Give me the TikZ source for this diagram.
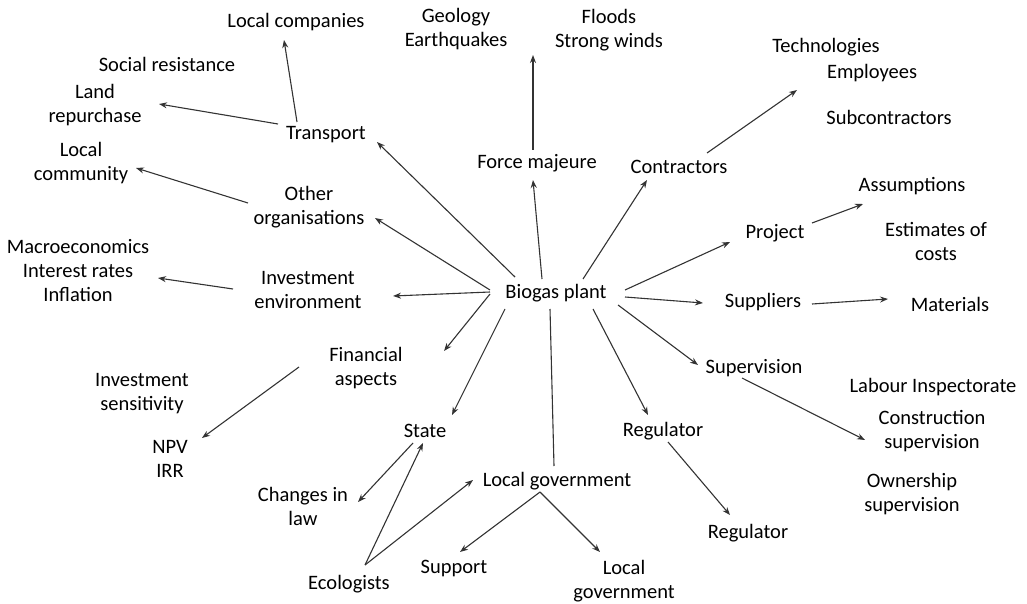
\documentclass[tikz,border=0pt]{standalone}
\usepackage{fontspec}
\setmainfont{Carlito}
\usetikzlibrary{
    arrows.meta,
    positioning,
    calc
}
\tikzset{
    % Colors
    line color/.style={black!80},
    %
    % Nodes
    txt/.style={inner sep=2pt, align=center},
    %
    % Arrows
    arrow tip/.tip={Stealth[length=8pt,width=6pt]},
    link/.style={line color, line width=1.1pt},
    arr/.style={link,->,>={arrow tip}}
}
\tikzstyle{every node}=[font=\fontsize{20.5}{24}\selectfont]

\begin{document}
\begin{tikzpicture}[x=1pt, y=-1pt]
        \useasboundingbox (0,0) rectangle (1027,604);

        % centre
        \node[txt] (bio) at (556,293) {Biogas plant};

        % left half
        \node[txt] (transport) at (326,135) {Transport};
        \node[txt] (loccomp) at (296,22) {Local companies};
        \node[txt] (socres) at (167,64) {Social resistance};
        \node[txt] (landrep) at (95,105) {Land\\repurchase};
        \node[txt] (loccom) at (81,163) {Local\\community};
        \node[txt] (other) at (309,207) {Other\\organisations};
        \node[txt] (invenv) at (308,290) {Investment\\environment};
        \node[txt] (macro) at (78,271) {Macroeconomics\\Interest rates\\Inflation};
        \node[txt] (fin) at (366,368) {Financial\\aspects};
        \node[txt] (invsens) at (142,394) {Investment\\sensitivity};
        \node[txt] (npv) at (170,459) {NPV\\IRR};
        \node[txt] (state) at (425,431) {State};
        \node[txt] (changes) at (303,506) {Changes in\\law};
        \node[txt] (eco) at (349,584) {Ecologists};
        \node[txt] (localgov) at (557,481) {Local government};
        \node[txt] (support) at (454,568) {Support};
        \node[txt] (localgovb) at (624,581) {Local\\government};

        % top
        \node[txt] (geo) at (456,29) {Geology\\Earthquakes};
        \node[txt] (floods) at (609,30) {Floods\\Strong winds};
        \node[txt] (force) at (537,163) {Force majeure};
        \node[txt] (contr) at (679,167) {Contractors};

        % right half
        \node[txt] (tech) at (826,47) {Technologies};
        \node[txt] (empl) at (872,73) {Employees};
        \node[txt] (subc) at (889,117) {Subcontractors};
        \node[txt] (project) at (775,233) {Project};
        \node[txt] (assum) at (912,186) {Assumptions};
        \node[txt] (estim) at (936,241) {Estimates of\\costs};
        \node[txt] (supp) at (763,302) {Suppliers};
        \node[txt] (mater) at (950,304) {Materials};
        \node[txt] (superv) at (754,368) {Supervision};
        \node[txt] (labour) at (933,387) {Labour Inspectorate};
        \node[txt] (constr) at (932,431) {Construction\\supervision};
        \node[txt] (owner) at (912,494) {Ownership\\supervision};
        \node[txt] (reg) at (663,431) {Regulator};
        \node[txt] (regb) at (748,533) {Regulator};

        % connectors from the plant
        \draw[arr] ([shift={(-41,-16)}]bio.center) -- ([shift={(51,7)}]transport.center);
        \draw[arr] ([shift={(-66,-3)}]bio.center) -- ([shift={(66,11)}]other.center);
        \draw[arr] ([shift={(-66,-1)}]bio.center) -- ([shift={(85,6)}]invenv.center);
        \draw[arr] ([shift={(-66,1)}]bio.center) -- ([shift={(78,-17)}]fin.center);
        \draw[arr] ([shift={(-51,16)}]bio.center) -- ([shift={(27,-16)}]state.center);
        \draw[link] ([shift={(-6,16)}]bio.center) -- ([shift={(-3,-15)}]localgov.center);
        \draw[arr] ([shift={(37,16)}]bio.center) -- ([shift={(-15,-16)}]reg.center);
        \draw[arr] ([shift={(62,12)}]bio.center) -- ([shift={(-56,-3)}]superv.center);
        \draw[arr] ([shift={(69,4)}]bio.center) -- ([shift={(-60,1)}]supp.center);
        \draw[arr] ([shift={(69,-3)}]bio.center) -- ([shift={(-45,9)}]project.center);
        \draw[arr] ([shift={(27,-14)}]bio.center) -- ([shift={(-32,13)}]contr.center);
        \draw[arr] ([shift={(-14,-14)}]bio.center) -- ([shift={(-4,17)}]force.center);

        % second ring
        \draw[arr] ([shift={(-29,-13)}]transport.center) -- ([shift={(-12,18)}]loccomp.center);
        \draw[arr] ([shift={(-48,-11)}]transport.center) -- ([shift={(64,-1)}]landrep.center);
        \draw[arr] ([shift={(-61,-4)}]other.center) -- ([shift={(55,5)}]loccom.center);
        \draw[arr] ([shift={(-75,-1)}]invenv.center) -- ([shift={(80,7)}]macro.center);
        \draw[arr] ([shift={(-67,-1)}]fin.center) -- ([shift={(32,-21)}]npv.center);
        \draw[arr] ([shift={(-4,-13)}]force.center) -- ([shift={(-76,25)}]floods.center);
        \draw[arr] ([shift={(28,-14)}]contr.center) -- ([shift={(-29,43)}]tech.center);
        \draw[arr] ([shift={(37,-10)}]project.center) -- ([shift={(-49,18)}]assum.center);
        \draw[arr] ([shift={(49,2)}]supp.center) -- ([shift={(-62,-5)}]mater.center);
        \draw[arr] ([shift={(-12,10)}]superv.center) -- ([shift={(-67,9)}]constr.center);
        \draw[arr] ([shift={(5,11)}]reg.center) -- ([shift={(-18,-18)}]regb.center);
        \draw[arr] ([shift={(-17,11)}]localgov.center) -- ([shift={(6,-16)}]support.center);
        \draw[arr] ([shift={(-17,11)}]localgov.center) -- ([shift={(-24,-29)}]localgovb.center);
        \draw[arr] ([shift={(16,-19)}]eco.center) -- ([shift={(-2,12)}]state.center);
        \draw[arr] ([shift={(16,-19)}]eco.center) -- ([shift={(-84,-1)}]localgov.center);
        \draw[arr] ([shift={(-12,12)}]state.center) -- ([shift={(55,-4)}]changes.center);
    \end{tikzpicture}
\end{document}
